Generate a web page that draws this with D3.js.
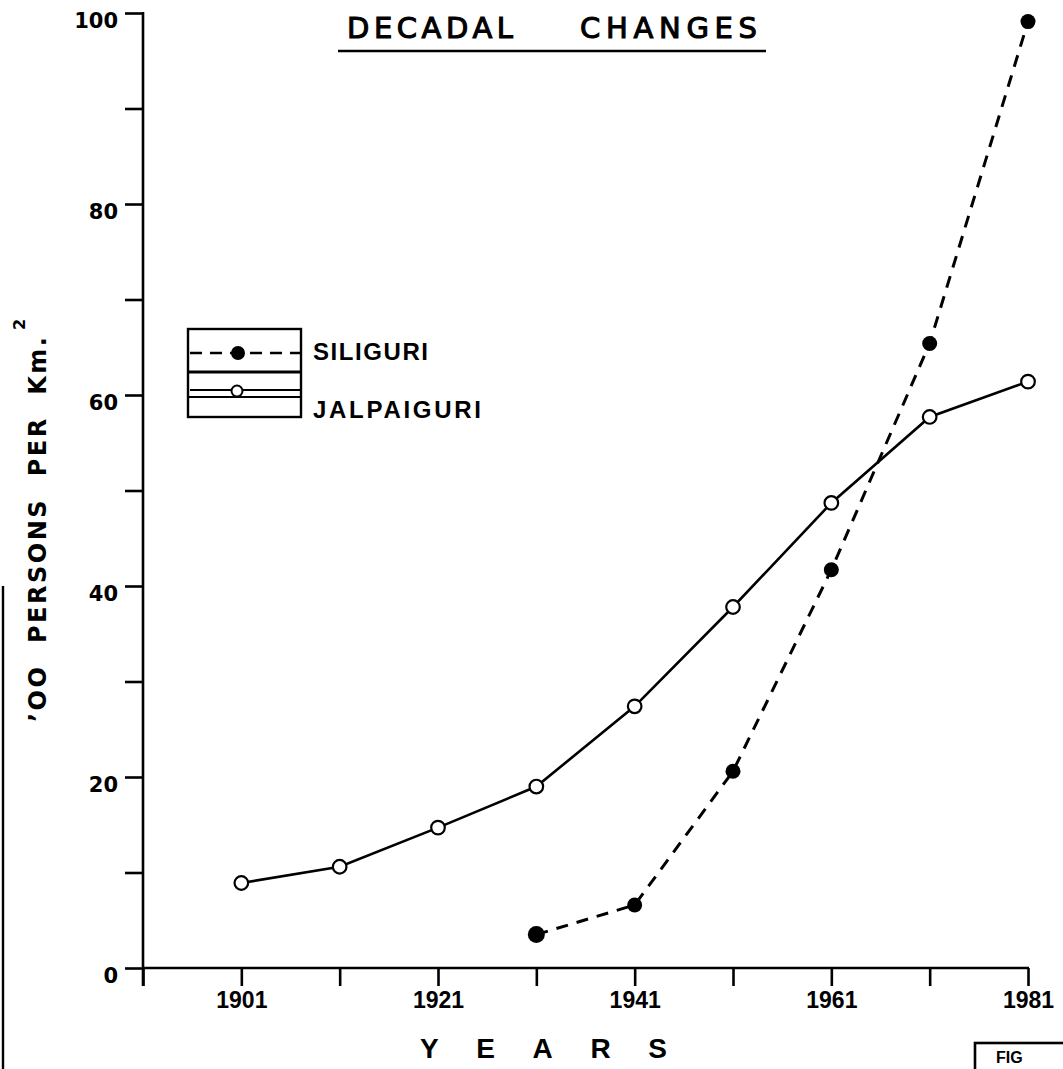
<!DOCTYPE html>
<html><head><meta charset="utf-8">
<script src="https://cdn.jsdelivr.net/npm/d3@7/dist/d3.min.js"></script>
<style>
body{margin:0;background:#fff}
svg{display:block}
</style>
</head><body>
<svg id="chart" width="1063" height="1069"></svg>
<script>
// ---- data ----
const years = [1901, 1911, 1921, 1931, 1941, 1951, 1961, 1971, 1981];
const jalpaiguri = [8.9, 10.6, 14.7, 19.0, 27.4, 37.8, 48.7, 57.7, 61.4];
const siliguriYears = [1931, 1941, 1951, 1961, 1971, 1981];
const siliguri = [3.5, 6.6, 20.6, 41.7, 65.4, 99.1];
const xTickYears = [1891, 1901, 1911, 1921, 1931, 1941, 1951, 1961, 1971, 1981];
const xLabelYears = [1901, 1921, 1941, 1961, 1981];
const yTickValues = [0, 10, 20, 30, 40, 50, 60, 70, 80, 90, 100];
const yLabelValues = [0, 20, 40, 60, 80, 100];
const seriesNames = ["SILIGURI", "JALPAIGURI"];
const titleWords = ["DECADAL", "CHANGES"];
const yAxisTitle = "\u2019OO  PERSONS  PER  Km.";
const xAxisTitle = "YEARS";
const figLabel = "FIG";

// ---- layout ----
const svg = d3.select("#chart");
const x = d3.scaleLinear().domain([1891, 1981]).range([143, 1028]);
const y = d3.scaleLinear().domain([0, 100]).range([968, 13]);
const INK = "#000";

// Y axis
const yAxis = d3.axisLeft(y)
  .tickValues(yTickValues)
  .tickSize(18)
  .tickPadding(7)
  .tickFormat(d => yLabelValues.includes(d) ? String(d) : "");
const gy = svg.append("g").attr("transform", `translate(${x(1891)},0)`).call(yAxis);
gy.select(".domain").attr("d", `M0,${y(100)-1}V${y(0)+18}`).attr("stroke", INK).attr("stroke-width", 2.6);
gy.selectAll(".tick line").attr("stroke", INK).attr("stroke-width", 2.6);
gy.selectAll(".tick text")
  .attr("font-family", "'DejaVu Sans', sans-serif")
  .attr("font-weight", "bold")
  .attr("font-size", 21)
  .attr("fill", INK)
  .attr("transform", "translate(0,8)");

// X axis
const xAxis = d3.axisBottom(x)
  .tickValues(xTickYears)
  .tickSize(18)
  .tickPadding(6)
  .tickFormat(d => xLabelYears.includes(d) ? String(d) : "");
const gx = svg.append("g").attr("transform", `translate(0,${y(0)})`).call(xAxis);
gx.select(".domain").attr("d", `M${x(1891)},0H${x(1981)+1}`).attr("stroke", INK).attr("stroke-width", 2.6);
gx.selectAll(".tick line").attr("stroke", INK).attr("stroke-width", 2.6);
gx.selectAll(".tick text")
  .attr("font-family", "'Liberation Sans', Arial, sans-serif")
  .attr("font-weight", "bold")
  .attr("font-size", 23)
  .attr("fill", INK);

// Lines
const jData = years.map((yr, i) => ({yr, v: jalpaiguri[i]}));
const sData = siliguriYears.map((yr, i) => ({yr, v: siliguri[i]}));
const line = d3.line().x(d => x(d.yr)).y(d => y(d.v));

svg.append("path").datum(jData).attr("d", line)
  .attr("fill", "none").attr("stroke", INK).attr("stroke-width", 2.6);
svg.append("path").datum(sData).attr("d", line)
  .attr("fill", "none").attr("stroke", INK).attr("stroke-width", 3)
  .attr("stroke-dasharray", "12,9");

svg.append("g").selectAll("circle").data(jData).join("circle")
  .attr("cx", d => x(d.yr)).attr("cy", d => y(d.v)).attr("r", 6.8)
  .attr("fill", "#fff").attr("stroke", INK).attr("stroke-width", 2.2);
svg.append("g").selectAll("circle").data(sData).join("circle")
  .attr("cx", d => x(d.yr)).attr("cy", d => y(d.v)).attr("r", (d, i) => i === 0 ? 8.5 : 7.5)
  .attr("fill", INK);

// Title
const titleG = svg.append("g")
  .attr("font-family", "'DejaVu Sans', sans-serif")
  .attr("font-size", 29).attr("fill", INK)
  .attr("stroke", INK).attr("stroke-width", 1.1);
titleG.append("text").attr("x", 347).attr("y", 38).attr("textLength", 166).attr("lengthAdjust", "spacing").text(titleWords[0]);
titleG.append("text").attr("x", 580).attr("y", 38).attr("textLength", 177).attr("lengthAdjust", "spacing").text(titleWords[1]);
svg.append("line").attr("x1", 338).attr("x2", 766).attr("y1", 51).attr("y2", 51)
  .attr("stroke", INK).attr("stroke-width", 2.6);

// Y axis title
svg.append("text")
  .attr("transform", "translate(46,722) rotate(-90)")
  .attr("font-family", "'DejaVu Sans', sans-serif")
  .attr("font-weight", "bold").attr("font-size", 24).attr("fill", INK)
  .attr("textLength", 385).attr("lengthAdjust", "spacing")
  .style("white-space", "pre")
  .text(yAxisTitle);
svg.append("text")
  .attr("transform", "translate(25,330) rotate(-90)")
  .attr("font-family", "'DejaVu Sans', sans-serif")
  .attr("font-weight", "bold").attr("font-size", 16).attr("fill", INK)
  .text("2");

// X axis title
svg.append("text")
  .attr("x", 420).attr("y", 1058)
  .attr("font-family", "'Liberation Sans', Arial, sans-serif")
  .attr("font-weight", "bold").attr("font-size", 28).attr("fill", INK)
  .attr("textLength", 247).attr("lengthAdjust", "spacing")
  .text(xAxisTitle);

// Legend
const lg = svg.append("g");
lg.append("rect").attr("x", 188).attr("y", 329).attr("width", 113).attr("height", 88)
  .attr("fill", "none").attr("stroke", INK).attr("stroke-width", 2.4);
lg.append("line").attr("x1", 188).attr("x2", 301).attr("y1", 372).attr("y2", 372).attr("stroke", INK).attr("stroke-width", 3);
lg.append("line").attr("x1", 188).attr("x2", 301).attr("y1", 397).attr("y2", 397).attr("stroke", INK).attr("stroke-width", 2.2);
lg.append("line").attr("x1", 190).attr("x2", 300).attr("y1", 353).attr("y2", 353)
  .attr("stroke", INK).attr("stroke-width", 2.6).attr("stroke-dasharray", "12,8");
lg.append("circle").attr("cx", 238).attr("cy", 353).attr("r", 7).attr("fill", INK);
lg.append("line").attr("x1", 190).attr("x2", 300).attr("y1", 390).attr("y2", 390)
  .attr("stroke", INK).attr("stroke-width", 2.2);
lg.append("circle").attr("cx", 237).attr("cy", 391).attr("r", 5.5)
  .attr("fill", "#fff").attr("stroke", INK).attr("stroke-width", 2);
const legTextG = lg.append("g")
  .attr("font-family", "'Liberation Sans', Arial, sans-serif")
  .attr("font-weight", "bold").attr("font-size", 24).attr("fill", INK);
legTextG.append("text").attr("x", 313).attr("y", 360).attr("textLength", 115).attr("lengthAdjust", "spacing").text(seriesNames[0]);
legTextG.append("text").attr("x", 313).attr("y", 418).attr("textLength", 168).attr("lengthAdjust", "spacing").text(seriesNames[1]);

// Left page edge (scan artifact) and FIG box
svg.append("line").attr("x1", 3).attr("x2", 3).attr("y1", 586).attr("y2", 1069)
  .attr("stroke", INK).attr("stroke-width", 2.4);
svg.append("rect").attr("x", 975).attr("y", 1043).attr("width", 100).attr("height", 40)
  .attr("fill", "none").attr("stroke", INK).attr("stroke-width", 2.6);
svg.append("text").attr("x", 996).attr("y", 1063)
  .attr("font-family", "'Liberation Sans', Arial, sans-serif")
  .attr("font-weight", "bold").attr("font-size", 16).attr("fill", INK)
  .text(figLabel);
</script>
</body></html>
